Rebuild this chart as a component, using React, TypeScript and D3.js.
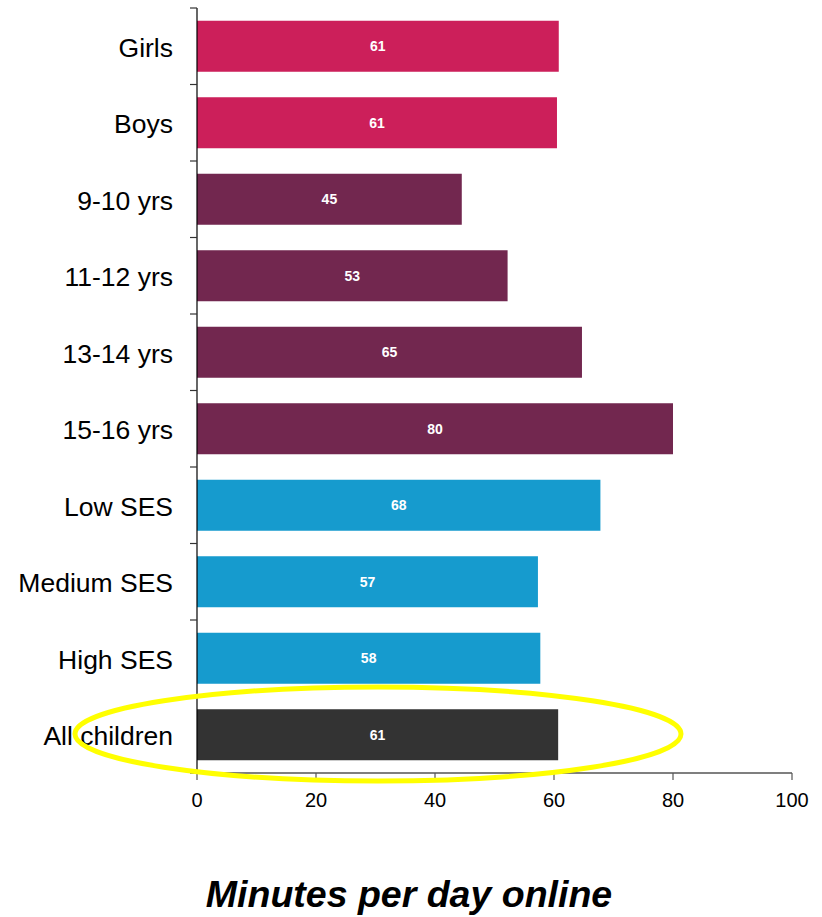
import React from "react";
import * as d3 from "d3";

const categories = ["Girls", "Boys", "9-10 yrs", "11-12 yrs", "13-14 yrs", "15-16 yrs", "Low SES", "Medium SES", "High SES", "All children"];
const values = [60.8, 60.5, 44.5, 52.2, 64.7, 80.0, 67.8, 57.3, 57.7, 60.7];
const valueLabels = ["61", "61", "45", "53", "65", "80", "68", "57", "58", "61"];
const groups = ["gender", "gender", "age", "age", "age", "age", "ses", "ses", "ses", "all"];
const groupColors: Record<string, string> = {
  gender: "#CC1F5A",
  age: "#72274F",
  ses: "#169BCE",
  all: "#333333",
};
const xTicks = [0, 20, 40, 60, 80, 100];
const xTitle = "Minutes per day online";

export default function App() {
  const W = 822, H = 917;
  const left = 197, right = 792, top = 8, bottom = 773;
  const x = d3.scaleLinear().domain([0, 100]).range([left, right]);
  const y = d3.scaleBand<string>().domain(categories).range([top, bottom]).padding(0);
  const step = y.step();
  const barH = step * (2 / 3);
  const font = "'Liberation Sans', Arial, sans-serif";
  const boundaries = d3.range(categories.length + 1).map((i) => top + i * step);

  return (
    <svg width={W} height={H} style={{ position: "absolute", left: 0, top: 0, background: "#fff" }} fontFamily={font}>
      {categories.map((c, i) => {
        const by = (y(c) as number) + (step - barH) / 2;
        return (
          <g key={c}>
            <rect x={x(0)} y={by} width={x(values[i]) - x(0)} height={barH} fill={groupColors[groups[i]]} />
            <text
              x={(x(0) + x(values[i])) / 2}
              y={by + barH / 2}
              dy="0.35em"
              textAnchor="middle"
              fill="#fff"
              fontWeight="bold"
              fontSize={14}
            >
              {valueLabels[i]}
            </text>
            <text x={173} y={by + barH / 2 + 1} dy="0.35em" textAnchor="end" fontSize={26.5} fill="#000">
              {c}
            </text>
          </g>
        );
      })}
      {/* y axis */}
      <line x1={left} x2={left} y1={top} y2={bottom} stroke="#000" strokeWidth={1.2} />
      {boundaries.map((b, i) => (
        <line key={i} x1={left - 7} x2={left} y1={b} y2={b} stroke="#333" strokeWidth={1.2} />
      ))}
      {/* x axis */}
      <line x1={left} x2={right} y1={bottom} y2={bottom} stroke="#000" strokeWidth={1.2} />
      {xTicks.map((t) => (
        <g key={t}>
          <line x1={x(t)} x2={x(t)} y1={bottom} y2={bottom + 7} stroke="#555" strokeWidth={1.2} />
          <text x={x(t)} y={800} dy="0.35em" textAnchor="middle" fontSize={20} fill="#000">
            {t}
          </text>
        </g>
      ))}
      <text x={409} y={907} textAnchor="middle" fontSize={37.5} fontWeight="bold" fontStyle="italic" fill="#000">
        {xTitle}
      </text>
      <ellipse cx={378} cy={734} rx={303} ry={47} fill="none" stroke="#FFFF00" strokeWidth={5} />
    </svg>
  );
}
